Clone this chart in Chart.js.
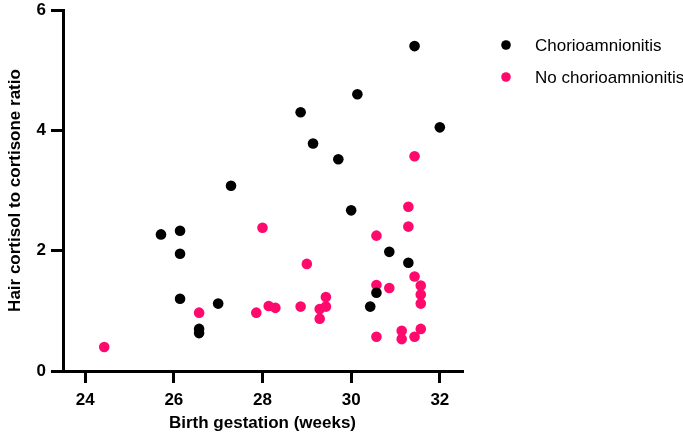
<!DOCTYPE html>
<html lang="en">
<head>
  <meta charset="UTF-8">
  <title>Hair cortisol to cortisone ratio</title>
  <script src="https://cdn.jsdelivr.net/npm/chart.js"></script>
  <style>
    body { margin: 0; background: #fff; }
    #wrap { width: 683px; height: 437px; position: relative; }
  </style>
</head>
<body>
  <div id="wrap"><canvas id="scatter"></canvas></div>

  <script>
    // birth gestation (weeks) and ratio, one pair per baby
    const chorioWeeks = [25.71, 26.14, 26.14, 26.14, 26.57, 26.57, 27.0, 27.29, 28.86, 29.14, 29.71, 30.0, 30.14, 30.43, 30.57, 30.86, 31.29, 31.43, 32.0];
    const chorioRatio = [2.27, 2.33, 1.95, 1.2, 0.7, 0.63, 1.12, 3.08, 4.3, 3.78, 3.52, 2.67, 4.6, 1.07, 1.3, 1.98, 1.8, 5.4, 4.05];

    const noChorioWeeks = [24.43, 26.57, 27.86, 28.0, 28.14, 28.29, 28.86, 29.0, 29.29, 29.29, 29.43, 29.43, 30.57, 30.57, 30.57, 30.86, 31.14, 31.14, 31.29, 31.29, 31.43, 31.43, 31.43, 31.57, 31.57, 31.57, 31.57];
    const noChorioRatio = [0.4, 0.97, 0.97, 2.38, 1.08, 1.05, 1.07, 1.78, 1.03, 0.87, 1.23, 1.07, 2.25, 1.43, 0.57, 1.38, 0.67, 0.53, 2.73, 2.4, 3.57, 1.57, 0.57, 1.42, 1.27, 1.12, 0.7];

    const xTicks = [24, 26, 28, 30, 32];
    const yTicks = [0, 2, 4, 6];

    const pts = (xs, ys) => xs.map((x, i) => ({ x: x, y: ys[i] }));
    const boldFont = { family: 'Liberation Sans', size: 17, weight: 'bold' };

    // legend on the right, drawn next to the plot like the original
    const sideLegend = {
      id: 'sideLegend',
      afterDraw(chart) {
        const ctx = chart.ctx;
        const x0 = chart.chartArea.right + 44;
        ctx.save();
        ctx.font = '17px "Liberation Sans"';
        ctx.textBaseline = 'alphabetic';
        chart.data.datasets.forEach((ds, i) => {
          const y = chart.chartArea.top + 35 + i * 32;
          ctx.fillStyle = ds.backgroundColor;
          ctx.beginPath();
          ctx.arc(x0, y, 4.8, 0, Math.PI * 2);
          ctx.fill();
          ctx.fillStyle = '#000';
          ctx.fillText(ds.label, x0 + 29, y + 6);
        });
        ctx.restore();
      }
    };

    new Chart(document.getElementById('scatter'), {
      type: 'scatter',
      data: {
        datasets: [
          {
            label: 'Chorioamnionitis',
            data: pts(chorioWeeks, chorioRatio),
            backgroundColor: '#000000',
            pointRadius: 5.3,
            pointBorderWidth: 0,
            pointHoverRadius: 5.3
          },
          {
            label: 'No chorioamnionitis',
            data: pts(noChorioWeeks, noChorioRatio),
            backgroundColor: '#ff0a6c',
            pointRadius: 5.3,
            pointBorderWidth: 0,
            pointHoverRadius: 5.3
          }
        ]
      },
      options: {
        responsive: true,
        maintainAspectRatio: false,
        animation: false,
        layout: { padding: { top: 10, right: 221, left: 0, bottom: 0 } },
        plugins: {
          tooltip: { enabled: false },
          legend: { display: false }
        },
        scales: {
          x: {
            type: 'linear',
            min: 23.5,
            max: 32.5,
            afterBuildTicks: axis => { axis.ticks = xTicks.map(v => ({ value: v })); },
            afterFit: axis => { axis.height = 66; axis.paddingLeft = 0; axis.paddingRight = 0; },
            border: { color: '#000', width: 3 },
            grid: { drawOnChartArea: false, color: '#000', lineWidth: 3, tickLength: 12 },
            ticks: { color: '#000', font: boldFont, padding: 7, maxRotation: 0 },
            title: { display: true, text: 'Birth gestation (weeks)', color: '#000', font: boldFont, padding: 3 }
          },
          y: {
            type: 'linear',
            min: 0,
            max: 6,
            afterBuildTicks: axis => { axis.ticks = yTicks.map(v => ({ value: v })); },
            afterFit: axis => { axis.width = 63; axis.paddingTop = 0; axis.paddingBottom = 0; },
            border: { color: '#000', width: 3 },
            grid: { drawOnChartArea: false, color: '#000', lineWidth: 3, tickLength: 12 },
            ticks: { color: '#000', font: boldFont, padding: 5 },
            title: { display: true, text: 'Hair cortisol to cortisone ratio', color: '#000', font: boldFont, padding: 5 }
          }
        }
      },
      plugins: [sideLegend]
    });
  </script>
</body>
</html>
